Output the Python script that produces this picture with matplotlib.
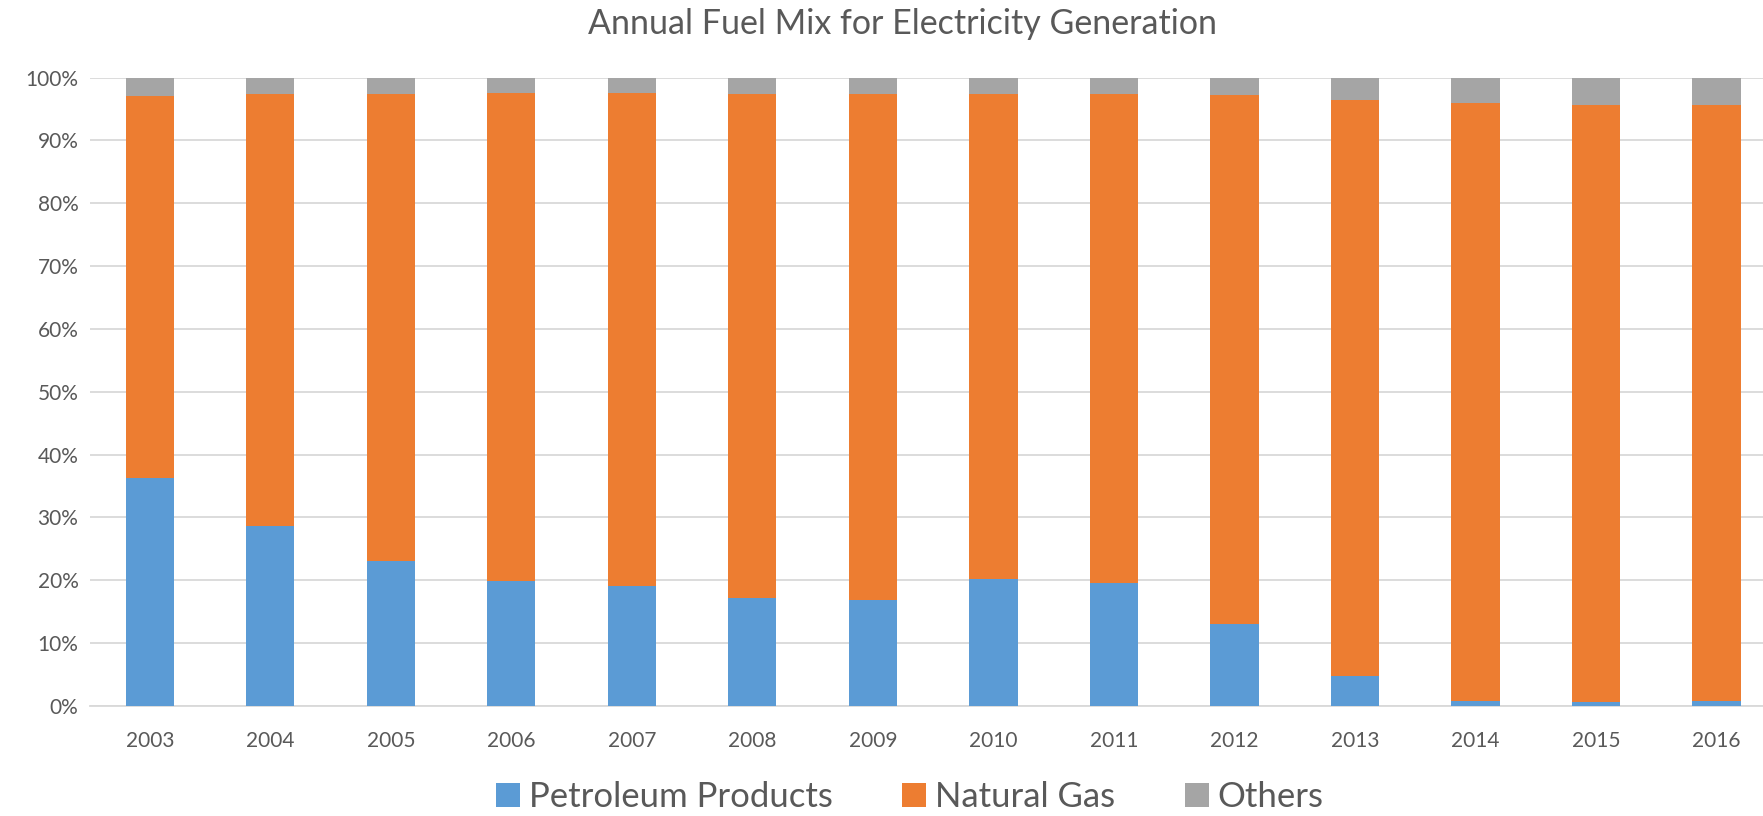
import numpy as np
import matplotlib
matplotlib.use('Agg')
from matplotlib import pyplot as plt

''' Data '''
years = ['2003', '2004', '2005', '2006', '2007', '2008', '2009',
         '2010', '2011', '2012', '2013', '2014', '2015', '2016']
petroleum = [36.3, 28.6, 23.1, 19.9, 19.0, 17.2, 16.9,
             20.2, 19.5, 13.1, 4.8, 0.7, 0.6, 0.7]
others = [2.9, 2.7, 2.6, 2.5, 2.5, 2.6, 2.6,
          2.7, 2.7, 2.8, 3.6, 4.1, 4.3, 4.3]
naturalGas = [100 - p - o for p, o in zip(petroleum, others)]

''' Plot '''
plt.rcParams['font.family'] = ['Lato', 'DejaVu Sans']
textColor = '#595959'

fig = plt.figure(figsize=(17.63, 8.16), dpi=100)
ax = fig.add_axes([0.0508, 0.135, 0.957, 0.77])

x = np.arange(len(years))
width = 0.4
ax.bar(x, petroleum, width, color='#5B9BD5', label='Petroleum Products', zorder=3)
ax.bar(x, naturalGas, width, bottom=petroleum, color='#ED7D31', label='Natural Gas', zorder=3)
ax.bar(x, others, width, bottom=np.array(petroleum) + np.array(naturalGas),
       color='#A5A5A5', label='Others', zorder=3)

ax.set_xlim(-0.5, 13.5)
ax.set_ylim(0, 100)
ax.set_yticks(np.arange(0, 101, 10))
ax.set_yticklabels(['%d%%' % v for v in range(0, 101, 10)])
ax.set_xticks(x)
ax.set_xticklabels(years)
ax.tick_params(axis='both', length=0, labelsize=15, colors=textColor)
ax.tick_params(axis='x', pad=18)
ax.tick_params(axis='y', pad=8)
ax.grid(axis='y', color='#D9D9D9', linewidth=1.3, zorder=0)
for s in ['top', 'right', 'left']:
    ax.spines[s].set_visible(False)
ax.spines['bottom'].set_color('#D9D9D9')
ax.spines['bottom'].set_linewidth(1.3)

fig.suptitle('Annual Fuel Mix for Electricity Generation', x=0.512, y=0.99,
             fontsize=24.5, color=textColor)

fig.legend(loc='lower center', bbox_to_anchor=(0.516, -0.035), ncol=3, frameon=False,
           fontsize=25, labelcolor=textColor, handlelength=0.7, handleheight=0.7,
           handletextpad=0.25, columnspacing=2.0)

plt.savefig('out.png', dpi=100)
